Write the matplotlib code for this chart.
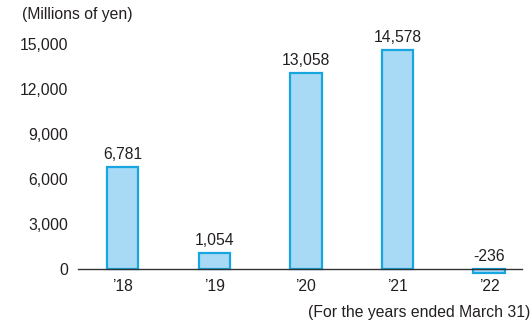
import matplotlib
matplotlib.use("Agg")
import matplotlib.pyplot as plt

years = ["\u201918", "\u201919", "\u201920", "\u201921", "\u201922"]
values = [6781, 1054, 13058, 14578, -236]
yticks = [0, 3000, 6000, 9000, 12000, 15000]

plt.rcParams['font.family'] = ['Liberation Sans', 'DejaVu Sans']
W, H = 532, 325
fig = plt.figure(figsize=(W/100, H/100), dpi=100)
ax = fig.add_axes([78/W, 1-290/H, 444/W, 270/H])
face = "#a9daf5"
edge = "#18a6e0"
txt = "#231f20"
fs = 11.3
x = list(range(len(years)))
ax.bar(x, values, width=0.34, color=face, edgecolor=edge, linewidth=1.6, zorder=2)
for xi, v in zip(x, values):
    base = max(v, 0)
    ax.annotate(f"{v:,}", (xi, base), xytext=(0, 3.5), textcoords="offset points",
                ha="center", va="bottom", fontsize=fs, color=txt)
ax.set_xlim(-0.49, 4.36)
ax.set_ylim(-1400, 16600)
for s in ["top", "right", "left"]:
    ax.spines[s].set_visible(False)
ax.spines["bottom"].set_position(("data", 0))
ax.spines["bottom"].set_color("#333333")
ax.spines["bottom"].set_linewidth(1.0)
ax.spines["bottom"].set_zorder(3)
ax.set_yticks(yticks)
ax.set_yticklabels([f"{t:,}" for t in yticks])
ax.set_xticks(x)
ax.set_xticklabels(years)
ax.tick_params(axis="both", length=0, labelsize=fs, colors=txt)
ax.tick_params(axis="y", pad=7)
ax.tick_params(axis="x", pad=7)
fig.text(22/W, 1-14/H, "(Millions of yen)", fontsize=fs, color=txt, va="center", ha="left")
fig.text(530/W, 1-313/H, "(For the years ended March 31)", fontsize=fs, color=txt, va="center", ha="right")
fig.savefig("out.png", dpi=100)
